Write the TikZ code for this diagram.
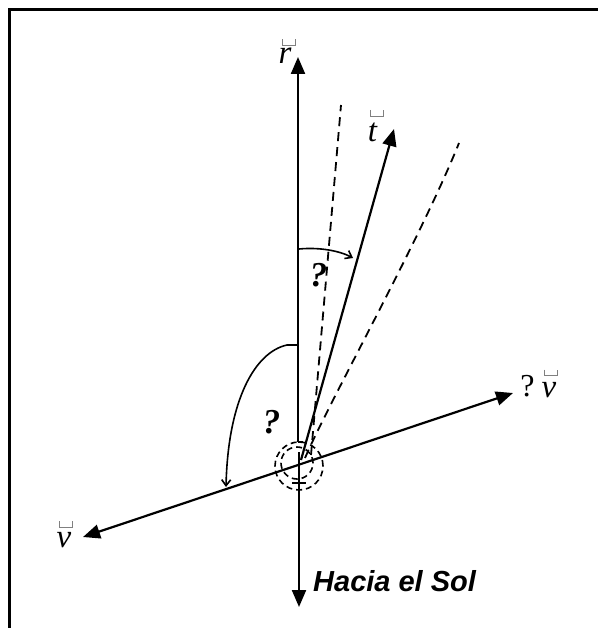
\documentclass[tikz,border=0pt]{standalone}
\usepackage{fontspec}
\setmainfont{Liberation Serif}
\newfontfamily\sunfont{Liberation Sans}
\usetikzlibrary{arrows.meta}
\begin{document}
\begin{tikzpicture}[x=1pt,y=-1pt,
  axis/.style={line width=2.2pt,-{Triangle[length=17pt,width=14pt]}},
  twoway/.style={line width=2.2pt,{Triangle[length=17pt,width=14pt]}-{Triangle[length=17pt,width=14pt]}},
  plain/.style={line width=2.2pt},
  dashline/.style={line width=1.8pt,dash pattern=on 9pt off 6pt},
  circdash/.style={line width=1.6pt,dash pattern=on 6pt off 4pt},
  anglearc/.style={line width=1.6pt,-{Straight Barb[length=6pt,width=9pt]}},
  vecbox/.style={line width=0.9pt,black!50},
  lbl/.style={inner sep=0pt,font=\fontsize{33}{33}\selectfont\itshape},
  qreg/.style={inner sep=0pt,font=\fontsize{32}{32}\selectfont},
  qmark/.style={inner sep=0pt,font=\fontsize{35}{35}\selectfont\bfseries\itshape},
  sunlbl/.style={inner sep=0pt,anchor=west,font=\sunfont\fontsize{29}{29}\selectfont\bfseries\itshape}]
\useasboundingbox (0,0) rectangle (598,628);
% frame (left and top only)
\coordinate (fbl) at (9.5,628);
\coordinate (ftl) at (9.5,9.5);
\coordinate (ftr) at (598,9.5);
\draw[line width=3pt] (fbl) -- (ftl) -- (ftr);

% key points
\coordinate (O) at (299,463);
\coordinate (rtip) at (298,57);
\coordinate (rbreak) at (298,442);
\coordinate (rbreakend) at (303,442);
\coordinate (ibtop) at (299,452);
\coordinate (ibbot) at (299,483);
\coordinate (ibl) at (292,483);
\coordinate (ibr) at (306,483);
\coordinate (suntip) at (299,607);
\coordinate (ttip) at (394,129);
\coordinate (tstart) at (301,460);
\coordinate (vleft) at (83,537);
\coordinate (vright) at (513,393);

% vertical axis r
\draw[axis] (rbreak) -- (rtip);
\draw[plain] (rbreak) -- (rbreakend);
\draw[plain] (ibtop) -- (ibbot);
\draw[plain] (ibl) -- (ibr);
\draw[axis] (ibbot) -- (suntip);

% dashed lines
\coordinate (d1a) at (311,455);
\coordinate (d1b) at (341,105);
\draw[dashline] (d1a) -- (d1b);
\coordinate (d2a) at (305,458);
\coordinate (d2b) at (459,143);
\draw[dashline] (d2a) .. controls (330,400) and (420,240) .. (d2b);

% t vector
\draw[axis] (tstart) -- (ttip);

% v line
\draw[twoway] (vleft) -- (vright);

% dashed circles at origin
\node[circdash,draw,circle,minimum size=48pt,inner sep=0pt] (c1) at (299,466) {};
\node[circdash,draw,circle,minimum size=32pt,inner sep=0pt] (c2) at (297,463) {};

% angle arcs
\coordinate (a1s) at (299,249);
\coordinate (a1e) at (353,258);
\draw[anglearc] (a1s) .. controls (320,247) and (340,251) .. (a1e);
\coordinate (a2s) at (298,345);
\coordinate (a2m) at (287,345);
\coordinate (a2e) at (226,487);
\draw[anglearc] (a2s) -- (a2m) .. controls (255,352) and (228,400) .. (a2e);

% labels
\node[lbl] (rl) at (285,56) {r};
\node[lbl] (tl) at (372.5,132.5) {t};
\node[lbl] (vl) at (64,540) {v};
\node[qreg] (dq) at (527.5,386.5) {?};
\node[lbl] (dvl) at (549,390) {v};
\node[qmark] (q1) at (318.5,275) {?};
\node[qmark] (q2) at (271.5,422.5) {?};
\node[sunlbl] (sun) at (313,581) {Hacia el Sol};

% vector-accent boxes (rendered as empty boxes in the reference)
\draw[vecbox] (282,39.5) -- (282,45.5) -- (295,45.5) -- (295,39.5);
\draw[vecbox] (370,110) -- (370,116) -- (383,116) -- (383,110);
\draw[vecbox] (59,521) -- (59,527) -- (72,527) -- (72,521);
\draw[vecbox] (544,369.5) -- (544,375.5) -- (557,375.5) -- (557,369.5);
\end{tikzpicture}
\end{document}
